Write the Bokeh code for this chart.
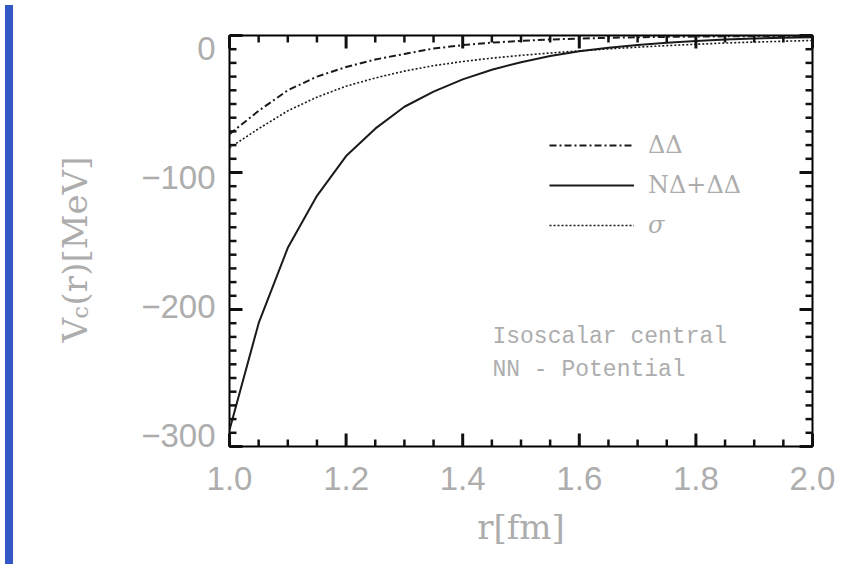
import math
from bokeh.plotting import figure
from bokeh.models import (Range1d, LinearAxis, FixedTicker, CustomJSTickFormatter,
                          PrintfTickFormatter, Legend, LegendItem, Label, Div)
from bokeh.layouts import row
from bokeh.embed import file_html
from bokeh.resources import INLINE

# ---------------- data ----------------
r_fm = [1.00, 1.05, 1.10, 1.15, 1.20, 1.25, 1.30, 1.35, 1.40, 1.45, 1.50,
        1.55, 1.60, 1.65, 1.70, 1.75, 1.80, 1.85, 1.90, 1.95, 2.00]
v_delta_delta = [-72, -55, -40, -30, -23, -17.5, -13.5, -9.5, -7.0, -5.2, -3.9,
                 -2.9, -2.2, -1.7, -1.3, -1.0, -0.8, -0.6, -0.45, -0.35, -0.25]
v_ndelta_ddelta = [-288, -210, -155, -117, -88, -68, -52, -41, -32, -25, -19.5,
                   -15, -11.5, -9, -7, -5.3, -4, -3, -2.2, -1.6, -1.2]
v_sigma = [-82, -68, -55, -45, -37, -31, -26, -22, -19, -16.5, -14.5,
           -12.8, -11.2, -9.8, -8.5, -7.4, -6.4, -5.5, -4.8, -4.2, -3.6]

x_major_ticks = [1.0, 1.2, 1.4, 1.6, 1.8, 2.0]
x_minor_ticks = [round(1.0 + 0.05 * i, 2) for i in range(21) if i % 4]
y_major_ticks = [-300, -200, -100, 0]
y_minor_ticks = [-300 + 10 * i for i in range(31) if i % 10]

legend_labels = ["ΔΔ", "NΔ+ΔΔ", "σ"]
note_lines = ["Isoscalar central", "NN - Potential"]
x_label = "r[fm]"
y_label_parts = ["V", "c", "(r)[MeV]"]

BLUE = "#3358c6"
GRAY = "#adadad"
INK = "#1a1a1a"
TICK = "#111111"

X0, X1 = 1.0, 2.0
Y0, Y1 = -300, 0

W, H = 725, 559
ML, MR, MT, MB = 111, 31, 35, 113
FW, FH = W - ML - MR, H - MT - MB

p = figure(width=W, height=H, output_backend="svg", toolbar_location=None,
           x_range=Range1d(X0, X1), y_range=Range1d(Y0, Y1),
           min_border_left=ML, min_border_right=MR, min_border_top=MT,
           min_border_bottom=MB, x_axis_location=None, y_axis_location=None)
p.background_fill_color = "white"
p.border_fill_color = "white"
p.outline_line_color = "black"
p.outline_line_width = 2
p.xgrid.visible = False
p.ygrid.visible = False

# label-only range for the y tick labels (they sit slightly inside the ends, as in the original)
p.extra_y_ranges = {"lab": Range1d(-308.5, 10.1)}

def style_axis(ax):
    ax.axis_line_color = None
    ax.major_tick_in = 0
    ax.major_tick_out = 0
    ax.minor_tick_in = 0
    ax.minor_tick_out = 0
    ax.major_label_text_color = GRAY
    ax.major_label_text_font = "Liberation Sans"
    ax.major_label_text_font_size = "33px"

bottom = LinearAxis(ticker=FixedTicker(ticks=x_major_ticks),
                    formatter=PrintfTickFormatter(format="%.1f"))
style_axis(bottom)
bottom.major_label_standoff = 20
bottom.axis_label = x_label
bottom.axis_label_text_font = "DejaVu Serif"
bottom.axis_label_text_font_style = "normal"
bottom.axis_label_text_font_size = "34px"
bottom.axis_label_text_color = GRAY
bottom.axis_label_standoff = 14
p.add_layout(bottom, "below")

left = LinearAxis(y_range_name="lab", ticker=FixedTicker(ticks=y_major_ticks),
                  formatter=CustomJSTickFormatter(
                      code='return tick < 0 ? "\\u2212" + Math.abs(tick) : "" + tick;'))
style_axis(left)
left.major_label_standoff = 14
p.add_layout(left, "left")

# ---------------- inward tick marks on all four sides ----------------
def tick_bars(xt, yt, length, thick):
    xs, ys, ws, hs = [], [], [], []
    hx = length / 2 * (X1 - X0) / FW
    hy = length / 2 * (Y1 - Y0) / FH
    for t in xt:
        xs += [t, t]; ys += [Y0 + hy, Y1 - hy]
        ws += [thick, thick]; hs += [length, length]
    for t in yt:
        ys += [t, t]; xs += [X0 + hx, X1 - hx]
        ws += [length, length]; hs += [thick, thick]
    return xs, ys, ws, hs

for ticks_x, ticks_y, ln, th in [(x_major_ticks, y_major_ticks, 13, 3),
                                 (x_minor_ticks, y_minor_ticks, 7, 2.5)]:
    bx, by, bw, bh = tick_bars(ticks_x, ticks_y, ln, th)
    p.rect(x=bx, y=by, width=bw, height=bh, width_units="screen", height_units="screen",
           fill_color=TICK, line_color=None, level="overlay")

# ---------------- curves ----------------
r_dd = p.line(r_fm, v_delta_delta, line_color=INK, line_width=2, line_dash="7 3 2 3")
r_nd = p.line(r_fm, v_ndelta_ddelta, line_color=INK, line_width=2)
r_sg = p.line(r_fm, v_sigma, line_color=INK, line_width=1.6, line_dash="2 2")

def make_legend(items, loc, style):
    lg = Legend(items=items, location=loc)
    lg.glyph_width = 85
    lg.glyph_height = 28
    lg.label_height = 28
    lg.label_standoff = 14
    lg.spacing = 12
    lg.padding = 0
    lg.margin = 0
    lg.border_line_color = None
    lg.background_fill_alpha = 0
    lg.label_text_font = "DejaVu Serif"
    lg.label_text_font_size = "24px"
    lg.label_text_color = GRAY
    lg.label_text_font_style = style
    return lg

leg_a = make_legend([LegendItem(label=legend_labels[0], renderers=[r_dd]),
                     LegendItem(label=legend_labels[1], renderers=[r_nd])], (320, 247), "normal")
leg_b = make_legend([LegendItem(label=legend_labels[2], renderers=[r_sg])], (320, 207), "italic")
p.add_layout(leg_a)
p.add_layout(leg_b)

# ---------------- annotation text ----------------
for txt, yv in zip(note_lines, [-220, -244]):
    p.add_layout(Label(x=1.451, y=yv, text=txt, text_font="Liberation Mono",
                       text_font_size="23px", text_color=GRAY,
                       text_baseline="alphabetic", text_align="left"))

# ---------------- y axis title (separate narrow panel sharing the vertical scale) ----------------
LW = 100
lab = figure(width=LW, height=H, output_backend="svg", toolbar_location=None,
             x_range=Range1d(0, LW), y_range=Range1d(Y0, Y1),
             min_border_left=0, min_border_right=0, min_border_top=MT, min_border_bottom=MB,
             x_axis_location=None, y_axis_location=None)
lab.outline_line_color = None
lab.background_fill_color = "white"
lab.border_fill_color = "white"
lab.grid.visible = False
for txt, size, xv, yv in zip(y_label_parts, ["34px", "22px", "34px"],
                             [56, 62, 56], [-224, -206.5, -197]):
    lab.add_layout(Label(x=xv, y=yv, text=txt, angle=math.pi / 2,
                         text_font="DejaVu Serif", text_font_size=size,
                         text_color=GRAY, text_baseline="alphabetic", text_align="left"))

strip = Div(width=8, height=H, styles={"background-color": BLUE})
layout = row(strip, lab, p, spacing=0)

open("out.html", "w").write(file_html(layout, INLINE))
